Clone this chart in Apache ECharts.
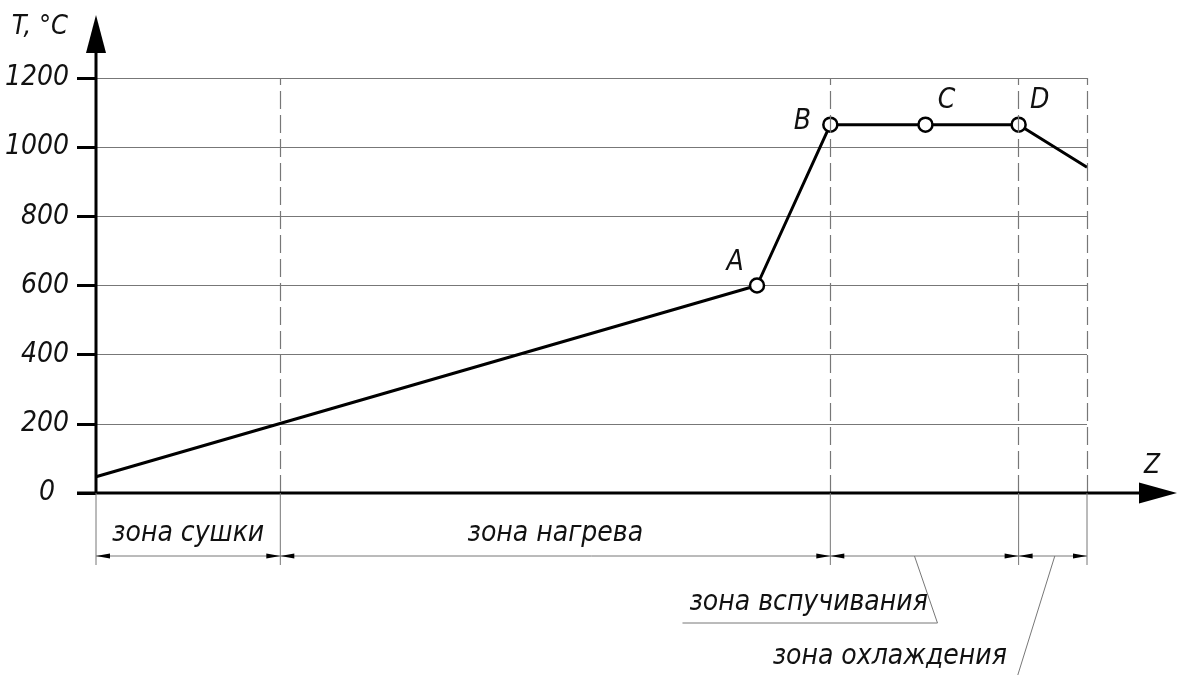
<!DOCTYPE html>
<html>
<head>
<meta charset="utf-8">
<script src="https://cdn.jsdelivr.net/npm/echarts@6/dist/echarts.min.js"></script>
<style>
  html, body { margin: 0; padding: 0; background: #fff; }
  #chart { width: 1179px; height: 675px; }
</style>
</head>
<body>
<div id="chart"></div>
<script>
// temperature curve along the furnace length z (arbitrary units 0..100)
const curveZ = [0, 66.7, 74.1, 83.7, 93.1, 100];
const curveT = [47, 600, 1065, 1065, 1065, 942];

// marked points
const pointNames = ['A', 'B', 'C', 'D'];
const pointZ = [66.7, 74.1, 83.7, 93.1];
const pointT = [600, 1065, 1065, 1065];
const pointLabelOffsets = [[-22, -23], [-28, -3], [21, -24], [21, -24]];

// zones
const zoneEdges = [0, 18.6, 74.1, 93.1, 100];
const zoneNames = ['зона сушки', 'зона нагрева', 'зона вспучивания', 'зона охлаждения'];

// y axis
const yMin = 0, yMax = 1200, yStep = 200;
const yName = 'T, °C';
const xName = 'Z';

const FONT_FAMILY = "'DejaVu Sans Condensed', 'DejaVu Sans', sans-serif";
const INK = '#111';
const GRID_GRAY = '#777';

const chart = echarts.init(document.getElementById('chart'));

chart.setOption({
  animation: false,
  backgroundColor: '#fff',
  grid: { left: 96, right: 92, top: 78, bottom: 182, containLabel: false, outerBoundsMode: 'none' },
  xAxis: {
    type: 'value',
    min: 0,
    max: 100,
    axisLine: { show: false },
    axisTick: { show: false },
    axisLabel: { show: false },
    splitLine: { show: false }
  },
  yAxis: {
    type: 'value',
    min: yMin,
    max: yMax,
    interval: yStep,
    axisLine: { show: false },
    axisTick: { show: true, length: 19, lineStyle: { color: '#000', width: 3 } },
    axisLabel: {
      margin: 27,
      color: INK,
      fontSize: 28,
      fontStyle: 'italic',
      fontFamily: FONT_FAMILY,
      formatter: v => (v === 0 ? '{zero|0}' : String(v)),
      rich: {
        zero: { fontSize: 28, fontStyle: 'italic', fontFamily: FONT_FAMILY, color: INK, padding: [0, 14, 0, 0] }
      }
    },
    splitLine: { show: true, lineStyle: { color: GRID_GRAY, width: 1.2 } }
  },
  series: [
    {
      type: 'line',
      data: curveZ.map((z, i) => [z, curveT[i]]),
      symbol: 'none',
      lineStyle: { color: '#000', width: 3 },
      z: 3,
      markLine: {
        silent: true,
        symbol: 'none',
        label: { show: false },
        lineStyle: { color: GRID_GRAY, width: 1.2, type: [18, 6] },
        data: zoneEdges.slice(1).map(z => ({ xAxis: z }))
      }
    },
    {
      type: 'scatter',
      data: pointZ.map((z, i) => ({
        value: [z, pointT[i]],
        name: pointNames[i],
        label: { offset: pointLabelOffsets[i] }
      })),
      symbol: 'circle',
      symbolSize: 14,
      itemStyle: { color: '#fff', borderColor: '#000', borderWidth: 2.5, opacity: 1 },
      label: {
        show: true,
        position: 'inside',
        formatter: p => p.name,
        color: INK,
        fontSize: 28,
        fontStyle: 'italic',
        fontFamily: FONT_FAMILY
      },
      z: 4
    }
  ]
});

// decorations: drawing-style axes with arrows and zone dimension lines
const toPx = (x, y) => chart.convertToPixel({ gridIndex: 0 }, [x, y]);
const origin = toPx(0, 0);
const yTopPx = toPx(0, yMax)[1];
const ox = origin[0], oy = origin[1];
const font = size => `italic ${size}px ${FONT_FAMILY}`;
const graphic = [];

const line = (x1, y1, x2, y2, stroke, lineWidth) => ({
  type: 'line', silent: true, z: 10,
  shape: { x1, y1, x2, y2 },
  style: { stroke, lineWidth }
});
const poly = points => ({
  type: 'polygon', silent: true, z: 10,
  shape: { points },
  style: { fill: '#000' }
});
const text = (str, x, y, size, align, vAlign) => ({
  type: 'text', silent: true, z: 10,
  style: { text: str, x, y, font: font(size), fill: INK, align, verticalAlign: vAlign }
});

// y axis with arrow
const yTip = yTopPx - 63;
graphic.push(line(ox, oy, ox, yTip + 30, '#000', 3));
graphic.push(poly([[ox, yTip], [ox - 10, yTip + 38], [ox + 10, yTip + 38]]));
// x axis with arrow
const xRight = toPx(100, 0)[0];
const xTip = xRight + 90;
graphic.push(line(ox - 19, oy, xTip - 30, oy, '#000', 3));
graphic.push(poly([[xTip, oy], [xTip - 38, oy - 10.5], [xTip - 38, oy + 10.5]]));

// axis names
graphic.push(text(yName, ox - 28, yTip + 12, 27, 'right', 'middle'));
graphic.push(text(xName, xTip - 25, oy - 27, 26, 'center', 'middle'));

// zone dimension lines
const dimY = oy + 63;
const edgePx = zoneEdges.map(z => toPx(z, 0)[0]);
edgePx.forEach(x => graphic.push(line(x, oy, x, oy + 72, GRID_GRAY, 1)));
graphic.push(line(edgePx[0], dimY, edgePx[edgePx.length - 1], dimY, GRID_GRAY, 1));
for (let i = 0; i < edgePx.length - 1; i++) {
  const a = edgePx[i], b = edgePx[i + 1];
  graphic.push(poly([[a, dimY], [a + 14, dimY - 2.5], [a + 14, dimY + 2.5]]));
  graphic.push(poly([[b, dimY], [b - 14, dimY - 2.5], [b - 14, dimY + 2.5]]));
}

// zone names
const ZONE_FONT = 28;
const mid = i => (edgePx[i] + edgePx[i + 1]) / 2;
graphic.push(text(zoneNames[0], mid(0), dimY - 22, ZONE_FONT, 'center', 'middle'));
graphic.push(text(zoneNames[1], mid(1), dimY - 22, ZONE_FONT, 'center', 'middle'));

// leader for zone 3
const l3x = mid(2) - 10;
const l3end = [l3x + 23, dimY + 67];
graphic.push(line(l3x, dimY, l3end[0], l3end[1], GRID_GRAY, 1));
graphic.push(line(l3end[0] - 255, l3end[1], l3end[0], l3end[1], GRID_GRAY, 1));
graphic.push(text(zoneNames[2], l3end[0] - 248, l3end[1] - 20, ZONE_FONT, 'left', 'middle'));

// leader for zone 4
const l4x = mid(3) + 2;
graphic.push(line(l4x, dimY, l4x - 37, dimY + 119, GRID_GRAY, 1));
graphic.push(text(zoneNames[3], l4x - 48, dimY + 101, ZONE_FONT, 'right', 'middle'));

chart.setOption({ graphic });
</script>
</body>
</html>
